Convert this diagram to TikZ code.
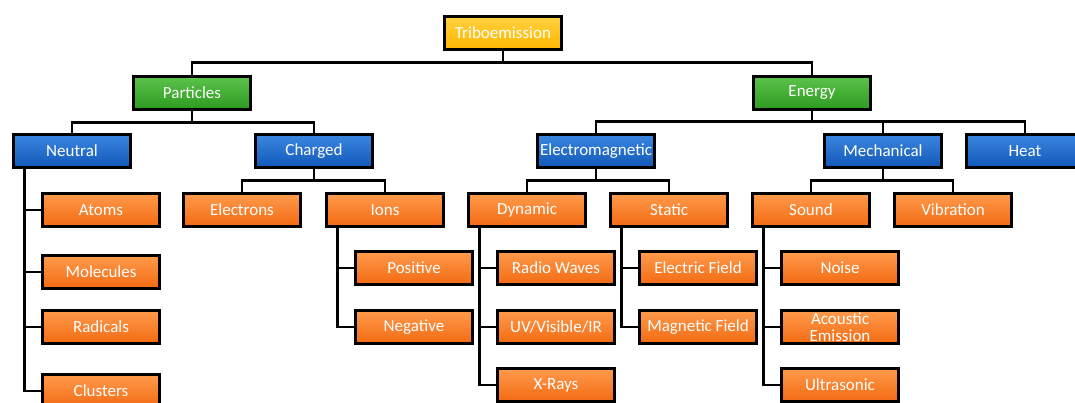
\documentclass[tikz,border=0pt]{standalone}
\usepackage{fontspec}
\setmainfont{Carlito}
\usetikzlibrary{positioning}

\definecolor{goldtop}{HTML}{FFD040}
\definecolor{goldbot}{HTML}{FFB800}
\definecolor{greentop}{HTML}{5CC24A}
\definecolor{greenbot}{HTML}{2C9A20}
\definecolor{bluetop}{HTML}{3B87E0}
\definecolor{bluebot}{HTML}{1158B8}
\definecolor{orangetop}{HTML}{FF9B4C}
\definecolor{orangebot}{HTML}{F26A12}

\begin{document}
\begin{tikzpicture}[x=1pt,y=-1pt,line width=2.8pt,
	box/.style={draw=black,line width=2.6pt,minimum width=117pt,minimum height=33pt,
		inner sep=0pt,text=white,align=center,font=\fontsize{17}{16}\selectfont},
	root node/.style={box,top color=goldtop,bottom color=goldbot},
	group node/.style={box,top color=greentop,bottom color=greenbot},
	kind node/.style={box,top color=bluetop,bottom color=bluebot},
	leaf node/.style={box,top color=orangetop,bottom color=orangebot}]
	
	\useasboundingbox (0,0) rectangle (1075,403);
	\clip (0,0) rectangle (1075,403);
	
	\node[root node] (tribo) at (503,33) {Triboemission};
	
	\node[group node] (part) at (192,93) {Particles};
	\node[group node] (energy) at (812,93) {Energy};
	
	\node[kind node] (neutral) at (72,151) {Neutral};
	\node[kind node] (charged) at (314,151) {Charged};
	\node[kind node] (em) at (596,151) {Electromagnetic};
	\node[kind node] (mech) at (883,151) {Mechanical};
	\node[kind node] (heat) at (1025,151) {Heat};
	
	% first row of leaves
	\node[leaf node] (atoms) at (101,210) {Atoms};
	\node[leaf node] (electrons) at (242,210) {Electrons};
	\node[leaf node] (ions) at (385,210) {Ions};
	\node[leaf node] (dynamic) at (527,210) {Dynamic};
	\node[leaf node] (static) at (669,210) {Static};
	\node[leaf node] (sound) at (811,210) {Sound};
	\node[leaf node] (vibration) at (953,210) {Vibration};
	
	% lower leaves
	\node[leaf node] (molecules) at (101,272) {Molecules};
	\node[leaf node] (radicals) at (101,327) {Radicals};
	\node[leaf node] (clusters) at (101,391) {Clusters};
	\node[leaf node] (positive) at (414,268) {Positive};
	\node[leaf node] (negative) at (414,327) {Negative};
	\node[leaf node] (radio) at (556,268) {Radio Waves};
	\node[leaf node] (uv) at (556,327) {UV/Visible/IR};
	\node[leaf node] (xrays) at (556,385) {X-Rays};
	\node[leaf node] (efield) at (698,268) {Electric Field};
	\node[leaf node] (mfield) at (698,327) {Magnetic Field};
	\node[leaf node] (noise) at (840,268) {Noise};
	\node[leaf node, font=\fontsize{17}{17}\selectfont] (acoustic) at (840,327) {Acoustic\\Emission};
	\node[leaf node] (ultra) at (840,385) {Ultrasonic};
	
	% buses
	\draw (tribo.south) -- ++(0,12) -| (part.north);
	\draw (tribo.south) ++(0,12) -| (energy.north);
	\foreach \c in {neutral,charged}
		\draw (part.south) -- ++(0,12) -| (\c.north);
	\foreach \c in {em,mech,heat}
		\draw (energy.south) -- ++(0,11) -| (\c.north);
	\foreach \c in {electrons,ions}
		\draw (charged.south) -- ++(0,12) -| (\c.north);
	\foreach \c in {dynamic,static}
		\draw (em.south) -- ++(0,12) -| (\c.north);
	\foreach \c in {sound,vibration}
		\draw (mech.south) -- ++(0,12) -| (\c.north);
	
	% trunks
	\foreach \c in {atoms,molecules,radicals,clusters}
		\draw ([xshift=12pt]neutral.south west) |- (\c.west);
	\foreach \c in {positive,negative}
		\draw ([xshift=12pt]ions.south west) |- (\c.west);
	\foreach \c in {radio,uv,xrays}
		\draw ([xshift=12pt]dynamic.south west) |- (\c.west);
	\foreach \c in {efield,mfield}
		\draw ([xshift=12pt]static.south west) |- (\c.west);
	\foreach \c in {noise,acoustic,ultra}
		\draw ([xshift=12pt]sound.south west) |- (\c.west);
\end{tikzpicture}
\end{document}
